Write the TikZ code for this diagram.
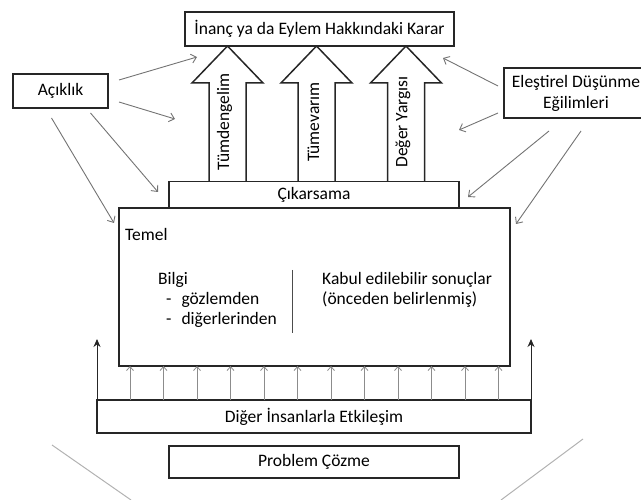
\documentclass[tikz,border=0pt]{standalone}
\usepackage{fontspec}
\setmainfont{Carlito}
\usetikzlibrary{arrows.meta}

\begin{document}
\begin{tikzpicture}[
  x=1pt, y=-1pt,
  font=\fontsize{17.5}{21}\selectfont,
  bx/.style={draw=black!85, line width=1.5pt, fill=white, inner sep=0pt, outer sep=0pt},
  tx/.style={anchor=base west, inner sep=0pt},
  blk/.style={draw=black!85, line width=1.5pt, line join=miter},
  ga/.style={draw=black!55, line width=0.9pt, -{Straight Barb[length=5pt,width=9pt]}},
  ua/.style={draw=black!45, line width=0.8pt, -{Straight Barb[length=4pt,width=7pt]}},
  ba/.style={draw=black!85, line width=1pt, -{Stealth[length=8pt,width=7pt]}},
  dg/.style={draw=black!30, line width=1pt}]

\useasboundingbox (0,0) rectangle (641,500);

% ===== block arrows (Cikarsama -> Karar) =====
\foreach \cx/\lbl/\nm in {227.5/Tümdengelim/tum, 316.5/Tümevarım/tev, 406/Değer Yargısı/deg}{
  \draw[blk] (\cx-18.5,182) -- (\cx-18.5,83) -- (\cx-35.5,83) -- (\cx,46)
    -- (\cx+35.5,83) -- (\cx+18.5,83) -- (\cx+18.5,182);
  \node[rotate=90, inner sep=0pt] (\nm) at (\cx-3,122) {\lbl};
}

% ===== boxes =====
\node[bx, minimum width=269pt, minimum height=34pt] (karar) at (319.5,29) {İnanç ya da Eylem Hakkındaki Karar};
\node[bx, minimum width=95pt, minimum height=34pt] (acik) at (60.5,91) {Açıklık};
\node[bx, minimum width=144pt, minimum height=50pt, align=center] (elest) at (576,93) {Eleştirel Düşünme\\Eğilimleri};
\node[bx, minimum width=290pt, minimum height=27pt] (cikar) at (314,195) {Çıkarsama};
\node[bx, minimum width=391pt, minimum height=158pt] (temel) at (314.5,287) {};
\node[bx, minimum width=434pt, minimum height=33pt] (diger) at (314,416.5) {Diğer İnsanlarla Etkileşim};
\node[bx, minimum width=290pt, minimum height=32pt] (probl) at (314,462) {Problem Çözme};

% ===== inside Temel =====
\node[tx] (temlbl) at (125,241) {Temel};
\node[tx] (bilgi)  at (158,285) {Bilgi};
\node[tx] (gozlem) at (166,305) {-\hspace{10pt}gözlemden};
\node[tx] (digerl) at (166,325) {-\hspace{10pt}diğerlerinden};
\node[tx] (kabul)  at (322,285) {Kabul edilebilir sonuçlar};
\node[tx] (oncdn)  at (322,305) {(önceden belirlenmiş)};
\draw[black!70, line width=0.8pt] (292,270) -- (292,333);

% ===== thin arrows from Aciklik / Elestirel =====
\coordinate (g1) at (197,57);
\coordinate (g2) at (175,119);
\coordinate (g3) at (158,192);
\coordinate (g4) at (114,223);
\coordinate (g5) at (443,58);
\coordinate (g6) at (459,130);
\coordinate (g7) at (468,197);
\coordinate (g8) at (516,224);
\draw[ga] ([shift={(11,-11)}]acik.east) -- (g1);
\draw[ga] ([shift={(11,11)}]acik.east) -- (g2);
\draw[ga] ([shift={(30,5)}]acik.south) -- (g3);
\draw[ga] ([shift={(-9,10)}]acik.south) -- (g4);
\draw[ga] ([shift={(-6,-7)}]elest.west) -- (g5);
\draw[ga] ([shift={(-6,20)}]elest.west) -- (g6);
\draw[ga] ([shift={(-27,13)}]elest.south) -- (g7);
\draw[ga] ([shift={(5,13)}]elest.south) -- (g8);

% ===== Diger -> Temel =====
\foreach \i in {0,...,11}
  \draw[ua] ({130+33.5*\i},0 |- diger.north) -- ({130+33.5*\i},0 |- temel.south);
\coordinate (lt) at (97,339);
\coordinate (rt) at (531,339);
\draw[ba] (diger.north west) -- (lt);
\draw[ba] (diger.north east) -- (rt);

% ===== bottom slants =====
\draw[dg] (52,445) -- (131,500);
\draw[dg] (583,439) -- (501,500);

\end{tikzpicture}
\end{document}
